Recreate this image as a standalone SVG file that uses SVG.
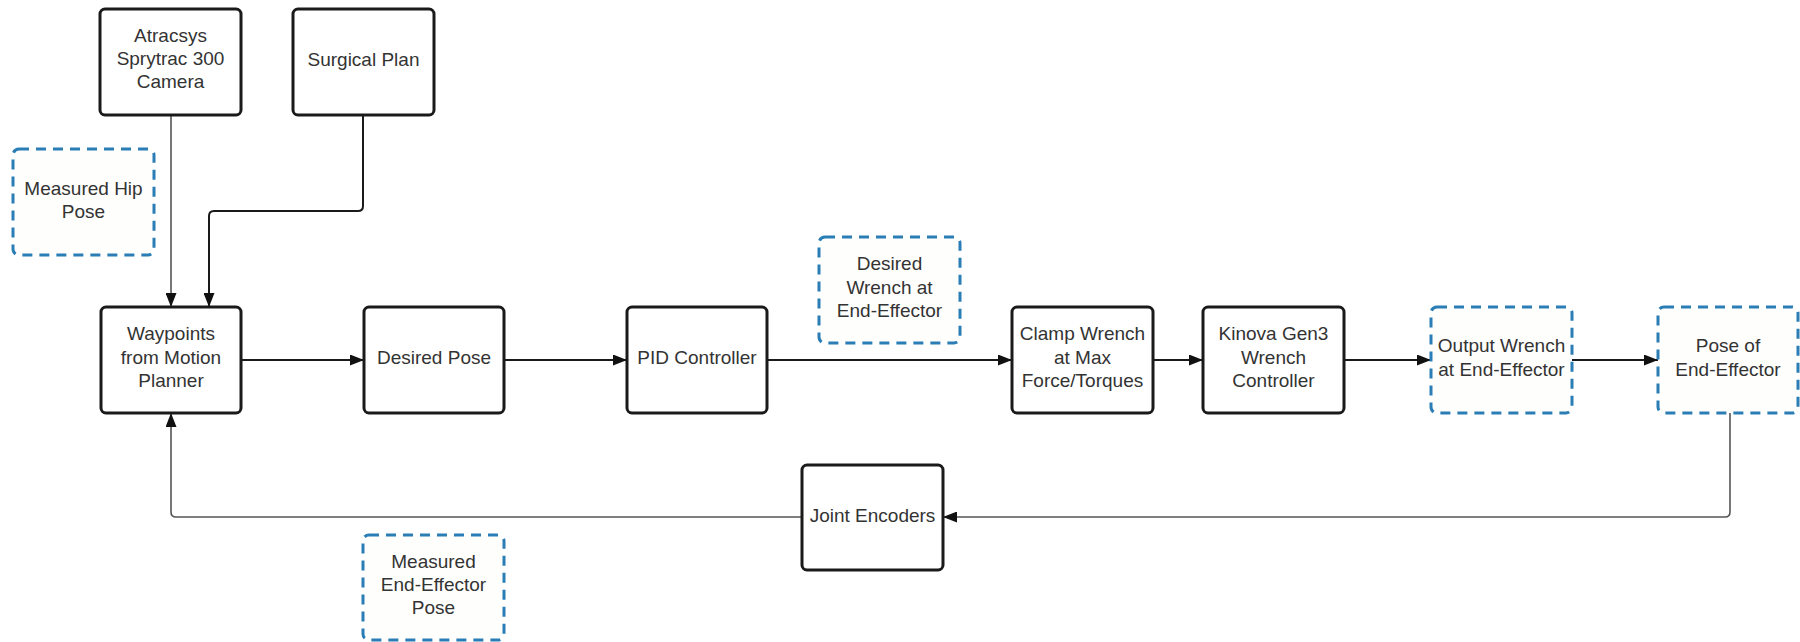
<svg xmlns="http://www.w3.org/2000/svg" width="1800" height="642" viewBox="0 0 1800 642">
  <defs>
    <marker id="arrow" viewBox="0 0 14 11" refX="14" refY="5.5" markerWidth="14" markerHeight="11" markerUnits="userSpaceOnUse" orient="auto">
      <path d="M0,0 L14,5.5 L0,11 Z" fill="#111"/>
    </marker>
    <style>
      .block { fill: #ffffff; stroke: #1a1a1a; stroke-width: 3; }
      .signal { fill: #fefefd; stroke: #2a7db5; stroke-width: 3; stroke-dasharray: 10 7; }
      .label { font-family: "Liberation Sans", Arial, sans-serif; font-size: 19px; fill: #333333; text-anchor: middle; }
      .wire { fill: none; stroke: #1a1a1a; stroke-width: 2; }
      .wire-thin { fill: none; stroke: #555555; stroke-width: 1.6; }
    </style>
  </defs>
  <rect width="1800" height="642" fill="#ffffff"/>

  <!-- connectors -->
  <g id="connectors">
    <path class="wire-thin" d="M171,115 V307" marker-end="url(#arrow)"/>
    <path class="wire" d="M363,115 V206 Q363,211 358,211 H214 Q209,211 209,216 V307" marker-end="url(#arrow)"/>
    <path class="wire" d="M241,360 H364" marker-end="url(#arrow)"/>
    <path class="wire" d="M504,360 H627" marker-end="url(#arrow)"/>
    <path class="wire" d="M767,360 H1012" marker-end="url(#arrow)"/>
    <path class="wire" d="M1153,360 H1203" marker-end="url(#arrow)"/>
    <path class="wire" d="M1344,360 H1431" marker-end="url(#arrow)"/>
    <path class="wire" d="M1572,360 H1658" marker-end="url(#arrow)"/>
    <path class="wire-thin" d="M1730,413 V512 Q1730,517 1725,517 H943" marker-end="url(#arrow)"/>
    <path class="wire-thin" d="M802,517 H176 Q171,517 171,512 V413" marker-end="url(#arrow)"/>
  </g>

  <!-- blocks -->
  <g id="camera">
    <rect class="block" x="100" y="9" width="141" height="106" rx="5"/>
    <text class="label" x="170.5" y="42">Atracsys</text>
    <text class="label" x="170.5" y="65">Sprytrac 300</text>
    <text class="label" x="170.5" y="88">Camera</text>
  </g>
  <g id="surgical-plan">
    <rect class="block" x="293" y="9" width="141" height="106" rx="5"/>
    <text class="label" x="363.5" y="66">Surgical Plan</text>
  </g>
  <g id="measured-hip-pose">
    <rect class="signal" x="13" y="149" width="141" height="106" rx="6"/>
    <text class="label" x="83.5" y="195">Measured Hip</text>
    <text class="label" x="83.5" y="218">Pose</text>
  </g>
  <g id="waypoints">
    <rect class="block" x="101" y="307" width="140" height="106" rx="5"/>
    <text class="label" x="171" y="340">Waypoints</text>
    <text class="label" x="171" y="364">from Motion</text>
    <text class="label" x="171" y="387">Planner</text>
  </g>
  <g id="desired-pose">
    <rect class="block" x="364" y="307" width="140" height="106" rx="5"/>
    <text class="label" x="434" y="364">Desired Pose</text>
  </g>
  <g id="pid-controller">
    <rect class="block" x="627" y="307" width="140" height="106" rx="5"/>
    <text class="label" x="697" y="364">PID Controller</text>
  </g>
  <g id="desired-wrench">
    <rect class="signal" x="819" y="237" width="141" height="106" rx="6"/>
    <text class="label" x="889.5" y="270">Desired</text>
    <text class="label" x="889.5" y="294">Wrench at</text>
    <text class="label" x="889.5" y="317">End-Effector</text>
  </g>
  <g id="clamp-wrench">
    <rect class="block" x="1012" y="307" width="141" height="106" rx="5"/>
    <text class="label" x="1082.5" y="340">Clamp Wrench</text>
    <text class="label" x="1082.5" y="364">at Max</text>
    <text class="label" x="1082.5" y="387">Force/Torques</text>
  </g>
  <g id="kinova-controller">
    <rect class="block" x="1203" y="307" width="141" height="106" rx="5"/>
    <text class="label" x="1273.5" y="340">Kinova Gen3</text>
    <text class="label" x="1273.5" y="364">Wrench</text>
    <text class="label" x="1273.5" y="387">Controller</text>
  </g>
  <g id="output-wrench">
    <rect class="signal" x="1431" y="307" width="141" height="106" rx="6"/>
    <text class="label" x="1501.5" y="352">Output Wrench</text>
    <text class="label" x="1501.5" y="376">at End-Effector</text>
  </g>
  <g id="pose-end-effector">
    <rect class="signal" x="1658" y="307" width="140" height="106" rx="6"/>
    <text class="label" x="1728" y="352">Pose of</text>
    <text class="label" x="1728" y="376">End-Effector</text>
  </g>
  <g id="joint-encoders">
    <rect class="block" x="802" y="465" width="141" height="105" rx="5"/>
    <text class="label" x="872.5" y="522">Joint Encoders</text>
  </g>
  <g id="measured-end-effector-pose">
    <rect class="signal" x="363" y="535" width="141" height="105" rx="6"/>
    <text class="label" x="433.5" y="568">Measured</text>
    <text class="label" x="433.5" y="591">End-Effector</text>
    <text class="label" x="433.5" y="614">Pose</text>
  </g>
</svg>
